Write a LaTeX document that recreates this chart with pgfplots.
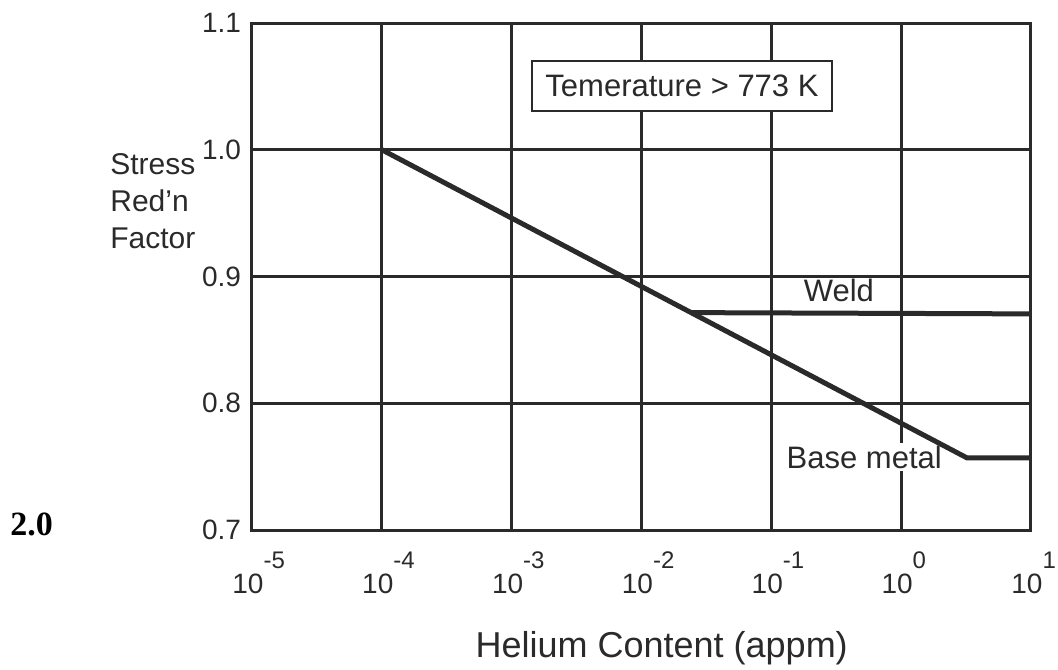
\documentclass[border=0pt]{standalone}
\usepackage{pgfplots}
\pgfplotsset{compat=1.18}
\usepackage{fontspec}
\setmainfont{Liberation Sans}[Ligatures=ResetAll]
\newfontfamily\timesfont{Liberation Serif}
\definecolor{ink}{HTML}{2A2A2A}
\newcommand{\tl}[1]{10\rlap{\raisebox{12.5pt}{\fontsize{12}{13}\selectfont #1}}}
\begin{document}
\begin{tikzpicture}
\begin{axis}[
  at={(0pt,0pt)}, anchor=south west,
  scale only axis, width=389.5pt, height=253.5pt,
  xmode=log, log basis x=10,
  xmin=1e-5, xmax=1e1, ymin=0.7, ymax=1.1,
  xtick={1e-5,1e-4,1e-3,1e-2,1e-1,1e0,1e1},
  xticklabels={\tl{-5},\tl{-4},\tl{-3},\tl{-2},\tl{-1},\tl{0},\tl{1}},
  ytick={0.7,0.8,0.9,1.0,1.1},
  yticklabels={0.7,0.8,0.9,1.0,1.1},
  /pgf/number format/assume math mode=true,
  major tick length=0pt,
  minor tick num=0,
  grid=major,
  major grid style={ink, line width=1.5pt},
  axis line style={ink, line width=1.5pt},
  tick label style={font=\fontsize{14}{16}\selectfont, text=ink},
  yticklabel style={xshift=-2pt},
  xticklabel style={font=\fontsize{14}{16}\selectfont, yshift=-7.5pt, xshift=-2pt},
  clip=false,
]
\node[fill=white, inner sep=1.5pt, font=\fontsize{15.5}{18}\selectfont, text=ink] at (rel axis cs:0.786,0.144) {Base metal};
\node[draw=ink, fill=white, line width=0.8pt, minimum width=150pt, minimum height=25pt, inner sep=0pt, font=\fontsize{15.5}{18}\selectfont, text=ink] at (rel axis cs:0.552,0.876) {Temerature > 773 K};
\node[font=\fontsize{15.5}{18}\selectfont, text=ink] at (rel axis cs:0.7535,0.473) {Weld};
\addplot[ink, line width=2.5pt] coordinates {(1e-4,1.0) (3.2,0.757) (10,0.757)};
\addplot[ink, line width=2.5pt] coordinates {(0.0245,0.8715) (10,0.8705)};
\node[font=\fontsize{18}{20}\selectfont, text=ink, anchor=base] at (rel axis cs:0.526,0) [yshift=-63.5pt] {Helium Content (appm)};
\node[align=left, anchor=west, inner sep=0pt, font=\fontsize{15}{18.5}\selectfont, text=ink] at (rel axis cs:0,0.649) [xshift=-71pt] {Stress\\Red'n\\Factor};
\node[anchor=west, inner sep=0pt, font=\timesfont\bfseries\fontsize{17}{20}\selectfont] at (rel axis cs:0,0) [xshift=-121pt, yshift=3pt] {2.0};
\end{axis}
\pgfresetboundingbox
\path (-126pt,-69.5pt) rectangle (403pt,265pt);
\end{tikzpicture}
\end{document}
